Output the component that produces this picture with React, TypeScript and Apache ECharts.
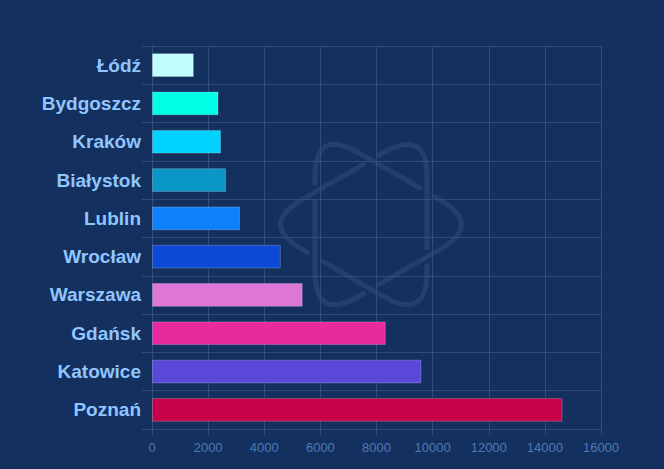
import React, { useEffect, useRef } from 'react';
import * as echarts from 'echarts';

const cities = ['Łódź', 'Bydgoszcz', 'Kraków', 'Białystok', 'Lublin', 'Wrocław', 'Warszawa', 'Gdańsk', 'Katowice', 'Poznań'];
const values = [1490, 2370, 2460, 2640, 3140, 4590, 5370, 8330, 9600, 14630];
const barColors = ['#c0fdff', '#00ffe6', '#00d2ff', '#0a97c8', '#0f80fb', '#0c49d6', '#dd76d6', '#e82a9e', '#5948d9', '#c8024a'];
const xMin = 0;
const xMax = 16000;
const xInterval = 2000;

const LOGO_R = 112;
const LOGO_D = 50;
const LOGO_GAP = 18;
const LOGO_OFF = LOGO_R + 10;

function buildLogoPath(): string {
  const R = LOGO_R;
  const h = (R * Math.sqrt(3)) / 2;
  const tris: number[][][] = [
    [[-R, 0], [R / 2, -h], [R / 2, h]],
    [[R, 0], [-R / 2, h], [-R / 2, -h]],
  ];
  const f = (n: number) => (n + LOGO_OFF).toFixed(2);
  let d = '';
  for (const t of tris) {
    for (let i = 0; i < 3; i++) {
      const P = t[(i + 2) % 3];
      const V = t[i];
      const N = t[(i + 1) % 3];
      const L = Math.hypot(V[0] - P[0], V[1] - P[1]);
      const up = [(V[0] - P[0]) / L, (V[1] - P[1]) / L];
      const un = [(N[0] - V[0]) / L, (N[1] - V[1]) / L];
      const s0 = (2 / 3) * L + LOGO_GAP / 2;
      const start = [P[0] + up[0] * s0, P[1] + up[1] * s0];
      const pin = [V[0] - up[0] * LOGO_D, V[1] - up[1] * LOGO_D];
      const pout = [V[0] + un[0] * LOGO_D, V[1] + un[1] * LOGO_D];
      const s1 = (2 / 3) * L - LOGO_GAP / 2;
      const end = [V[0] + un[0] * s1, V[1] + un[1] * s1];
      d += `M${f(start[0])} ${f(start[1])} L${f(pin[0])} ${f(pin[1])} Q${f(V[0])} ${f(V[1])} ${f(pout[0])} ${f(pout[1])} L${f(end[0])} ${f(end[1])} `;
    }
  }
  return d.trim();
}

echarts.graphic.registerShape('logo', echarts.graphic.extendPath(buildLogoPath(), {}));

const gridColor = '#2d4d80';

export default function App() {
  const ref = useRef<HTMLDivElement>(null);
  useEffect(() => {
    if (!ref.current) return;
    const chart = echarts.init(ref.current, undefined, { renderer: 'svg' });
    chart.setOption({
      animation: false,
      backgroundColor: '#14305f',
      graphic: [
        {
          type: 'logo',
          x: 371 - LOGO_OFF,
          y: 224.5 - LOGO_OFF,
          z: -10,
          silent: true,
          style: { fill: 'none', stroke: 'rgba(255,255,255,0.075)', lineWidth: 5, lineCap: 'round' },
        },
      ],
      grid: { left: 152, right: 63, top: 46, bottom: 40, containLabel: false },
      xAxis: {
        type: 'value',
        min: xMin,
        max: xMax,
        interval: xInterval,
        axisLine: { show: true, lineStyle: { color: gridColor } },
        axisTick: { show: true, length: 6, lineStyle: { color: gridColor } },
        splitLine: { show: true, lineStyle: { color: gridColor } },
        axisLabel: {
          color: '#5079b2',
          fontSize: 13,
          margin: 12,
          fontFamily: 'Liberation Sans, Arial, sans-serif',
          formatter: (v: number) => String(v),
        },
      },
      yAxis: {
        type: 'category',
        data: cities,
        inverse: true,
        axisLine: { show: true, lineStyle: { color: gridColor } },
        axisTick: { show: true, length: 10, lineStyle: { color: gridColor } },
        splitLine: { show: true, lineStyle: { color: gridColor } },
        axisLabel: {
          color: '#90c6ff',
          fontSize: 19,
          fontWeight: 'bold',
          margin: 11,
          fontFamily: 'Liberation Sans, Arial, sans-serif',
        },
      },
      series: [
        {
          type: 'bar',
          barWidth: '62%',
          data: values.map((v, i) => ({ value: v, itemStyle: { color: barColors[i] } })),
          itemStyle: { borderColor: 'rgba(255,255,255,0.22)', borderWidth: 1 },
        },
      ],
    });
    return () => chart.dispose();
  }, []);
  return <div ref={ref} style={{ position: 'fixed', left: 0, top: 0, width: 664, height: 469 }} />;
}
